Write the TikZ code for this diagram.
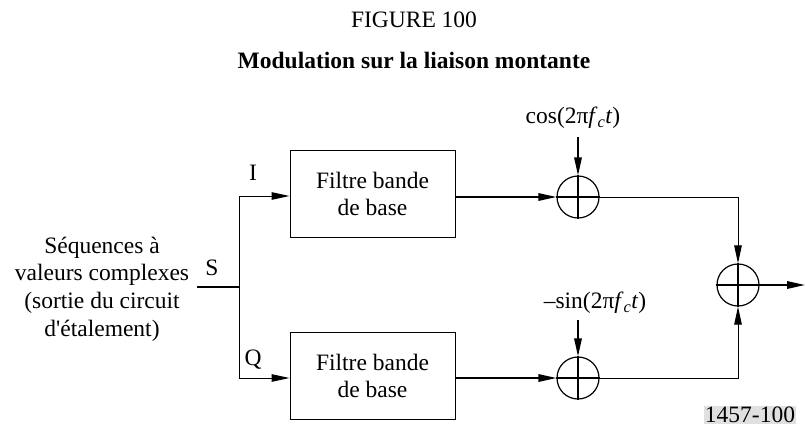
\documentclass[tikz,border=0pt]{standalone}
\usepackage{fontspec}
\setmainfont{Liberation Serif}[Ligatures=TeXOff]
\usetikzlibrary{arrows.meta}
\begin{document}
\begin{tikzpicture}[x=1pt,y=-1pt,
  txt/.style={inner sep=0pt, font=\fontsize{23.5}{27.7}\selectfont, align=center},
  blk/.style={draw, line width=1pt, minimum width=165pt, minimum height=87pt, inner sep=0pt, txt},
  mix/.style={draw, circle, line width=1.2pt, minimum size=42pt, inner sep=0pt},
  thk/.style={line width=1.6pt},
  thn/.style={line width=1pt},
  arr/.style={-{Triangle[length=18pt,width=7.5pt]}}
]
\useasboundingbox (0,0) rectangle (805,432);
% titles
\node[txt] (fig) at (414,20) {FIGURE 100};
\node[txt,font=\bfseries\fontsize{23.5}{27.7}\selectfont] (ttl) at (414,60) {Modulation sur la liaison montante};
% source
\node[txt] (src) at (102,289) {Séquences à\\valeurs complexes\\(sortie du circuit\\d'étalement)};
\coordinate (s0) at (197,287);
\coordinate (j) at (239,287);
\coordinate (jt) at (239,196);
\coordinate (jb) at (239,378);
\node[txt] (lS) at (212,268) {S};
\node[txt] (lI) at (253,173) {I};
\node[txt] (lQ) at (253,360) {Q};
% filters
\node[blk] (f1) at (372.5,194) {Filtre bande\\de base};
\node[blk] (f2) at (372.5,376) {Filtre bande\\de base};
% mixers
\node[mix] (m1) at (578,197) {};
\node[mix] (m2) at (578,378) {};
\node[mix] (sm) at (738,285) {};
\foreach \n in {m1,m2,sm}{
  \draw[line width=1.2pt] (\n.north) -- (\n.south) (\n.west) -- (\n.east);
}
% carrier labels
\node[txt] (c1) at (573,118) {cos(2π\textit{f}\textsubscript{\textit{c}}\textit{t})};
\node[txt] (c2) at (595,303) {–sin(2π\textit{f}\textsubscript{\textit{c}}\textit{t})};
\coordinate (c1a) at (578,137);
\coordinate (c2a) at (578,320);
\coordinate (out) at (805,285);
% connectors
\draw[thk] (s0) -- (j);
\draw[thn] (jt) -- (jb);
\draw[thn,arr] (jt) -- (f1.west |- jt);
\draw[thn,arr] (jb) -- (f2.west |- jb);
\draw[thk,arr] (f1.east |- m1) -- (m1.west);
\draw[thk,arr] (f2.east |- m2) -- (m2.west);
\draw[thk,arr] (c1a) -- (m1.north);
\draw[thk,arr] (c2a) -- (m2.north);
\draw[thn,arr] (m1.east) -| (sm.north);
\draw[thn,arr] (m2.east) -| (sm.south);
\draw[thk,arr] (sm.east) -- (out);
% reference number
\node[txt, fill=black!12, inner sep=1pt] (num) at (750,415) {1457-100};
\end{tikzpicture}
\end{document}
